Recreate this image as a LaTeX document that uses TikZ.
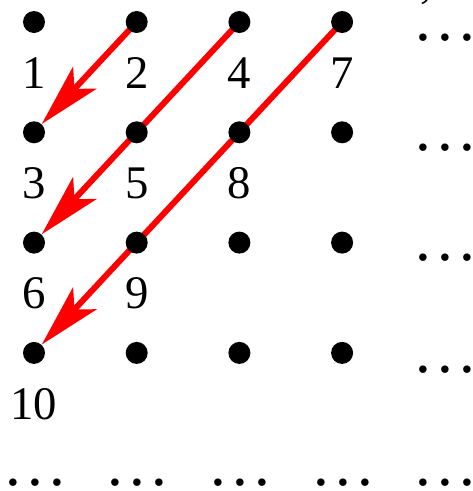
\documentclass[tikz,border=0pt]{standalone}
\usepackage{fontspec}
\setmainfont{Liberation Serif}
\usetikzlibrary{arrows.meta,positioning,calc,backgrounds}
\tikzset{
  gdot/.style={circle, fill=black, draw=none, inner sep=0pt, minimum size=0.44cm},
  num/.style={inner sep=0pt, font=\fontsize{26.6pt}{32pt}\selectfont},
  ell/.style={inner sep=0pt, font=\fontsize{35.8pt}{40pt}\selectfont},
  ar/.style={-{Stealth[length=1.26cm, width=0.64cm, inset=0.3cm]}, line width=0.12cm, draw=red},
}
\newcommand{\tdots}{\hbox{.\kern0.1em.\kern0.1em.}}

\begin{document}
\begin{tikzpicture}[x=0.02cm, y=-0.02cm]
\useasboundingbox (0,0) rectangle (473,491);

% ============================ grid of points ============================
\foreach \r in {1,...,4}{
  \foreach \c in {1,...,4}{
    \pgfmathsetmacro{\px}{34+(\c-1)*102.7}
    \pgfmathsetmacro{\py}{22+(\r-1)*110.3}
    \node[gdot] (p\r\c) at (\px,\py) {};
  }
}

% ============================ numbering ================================
\foreach \r/\c/\n in {1/1/1, 1/2/2, 2/1/3, 1/3/4, 2/2/5, 3/1/6,
                      1/4/7, 2/3/8, 3/2/9, 4/1/10}
{
  \node[num] (n\n) at ($(p\r\c)+(0,51)$) {\n};
}

% ============================ diagonals ================================
\begin{scope}[on background layer]
  \draw[ar] (p12.center) -- (p21);
  \draw[ar] (p13.center) -- (p31);
  \draw[ar] (p14.center) -- (p41);
\end{scope}

% ============================ continuation dots ========================
\foreach \i/\y in {1/38, 2/148, 3/258, 4/370}
  \node[ell] (e\i) at (445,\y) {\tdots};
\foreach \i/\x in {1/35, 2/137, 3/240, 4/343, 5/445}
  \node[ell] (b\i) at (\x,483) {\tdots};
\node[num, anchor=south] (cm) at (426,5) {,};

\end{tikzpicture}
\end{document}
